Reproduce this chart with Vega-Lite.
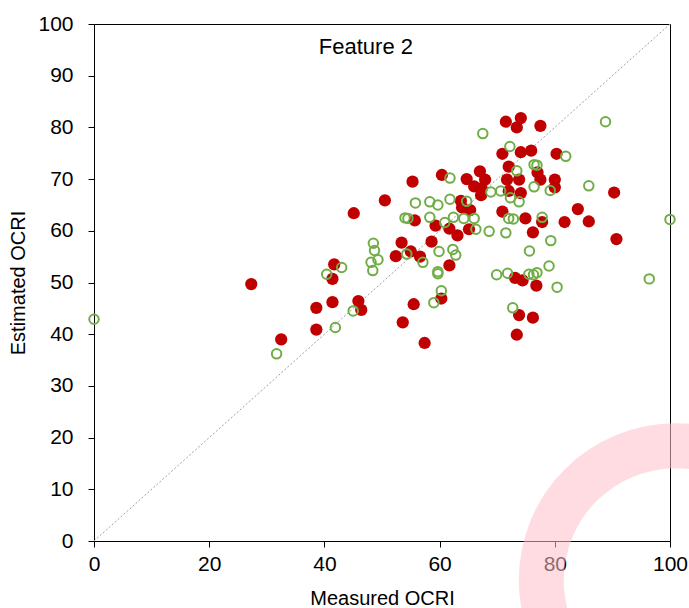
{
  "$schema": "https://vega.github.io/schema/vega-lite/v6.json",
  "width": 576,
  "height": 517,
  "autosize": {"type": "none"},
  "padding": {"left": 94, "top": 24, "right": 19, "bottom": 67},
  "background": "white",
  "config": {
    "view": {"stroke": "black", "strokeWidth": 1},
    "font": "Liberation Sans",
    "axis": {
      "grid": false,
      "domainColor": "black",
      "domainWidth": 1,
      "tickColor": "black",
      "tickSize": 6,
      "labelColor": "black",
      "labelFontSize": 21,
      "labelFont": "Liberation Sans",
      "titleColor": "black",
      "titleFontSize": 20,
      "titleFont": "Liberation Sans",
      "titleFontWeight": "normal"
    }
  },
  "datasets": {
    "filled": [
      {"x":71.5,"y":81.1},{"x":74.1,"y":81.8},{"x":73.4,"y":80.0},{"x":77.5,"y":80.3},{"x":70.9,"y":74.9},{"x":74.1,"y":75.2},{"x":75.9,"y":75.5},{"x":80.3,"y":74.9},{"x":72.0,"y":72.4},{"x":77.0,"y":71.3},{"x":77.5,"y":69.9},{"x":80.0,"y":69.9},{"x":80.0,"y":68.4},{"x":71.7,"y":69.9},{"x":73.8,"y":69.9},{"x":72.0,"y":67.7},{"x":74.1,"y":67.3},{"x":67.0,"y":71.5},{"x":67.9,"y":69.9},{"x":64.7,"y":70.0},{"x":66.0,"y":68.6},{"x":67.3,"y":68.2},{"x":67.2,"y":66.9},{"x":60.4,"y":70.8},{"x":55.3,"y":69.5},{"x":90.3,"y":67.4},{"x":63.7,"y":65.8},{"x":63.9,"y":64.5},{"x":65.3,"y":64.0},{"x":70.9,"y":63.7},{"x":84.0,"y":64.2},{"x":74.9,"y":62.4},{"x":77.8,"y":61.7},{"x":81.7,"y":61.7},{"x":85.9,"y":61.8},{"x":55.7,"y":62.0},{"x":59.3,"y":61.0},{"x":61.7,"y":60.4},{"x":65.1,"y":60.3},{"x":63.1,"y":59.1},{"x":76.2,"y":59.7},{"x":90.7,"y":58.4},{"x":58.6,"y":57.9},{"x":53.4,"y":57.7},{"x":55.0,"y":56.0},{"x":56.6,"y":55.0},{"x":52.4,"y":55.1},{"x":50.5,"y":65.9},{"x":45.1,"y":63.4},{"x":61.7,"y":53.3},{"x":41.7,"y":53.5},{"x":41.4,"y":50.7},{"x":27.3,"y":49.7},{"x":45.9,"y":46.4},{"x":46.4,"y":44.7},{"x":38.6,"y":45.1},{"x":41.4,"y":46.2},{"x":38.6,"y":40.9},{"x":32.5,"y":39.0},{"x":53.6,"y":42.3},{"x":55.5,"y":45.8},{"x":57.4,"y":38.3},{"x":60.3,"y":46.9},{"x":73.1,"y":50.9},{"x":74.4,"y":50.4},{"x":76.8,"y":49.4},{"x":73.8,"y":43.7},{"x":76.2,"y":43.2},{"x":73.4,"y":39.9}
    ],
    "open": [
      {"x":0,"y":42.9},{"x":100,"y":62.2},{"x":88.8,"y":81.1},{"x":67.5,"y":78.8},{"x":72.2,"y":76.3},{"x":81.9,"y":74.4},{"x":76.4,"y":72.8},{"x":76.9,"y":72.7},{"x":73.4,"y":71.6},{"x":61.8,"y":70.2},{"x":85.9,"y":68.7},{"x":76.4,"y":68.5},{"x":79.2,"y":67.8},{"x":68.9,"y":67.5},{"x":70.6,"y":67.7},{"x":72.3,"y":66.4},{"x":73.8,"y":65.6},{"x":61.8,"y":66.1},{"x":64.7,"y":65.7},{"x":58.3,"y":65.6},{"x":59.7,"y":65.0},{"x":55.8,"y":65.4},{"x":54.0,"y":62.5},{"x":54.5,"y":62.4},{"x":58.3,"y":62.6},{"x":60.9,"y":61.6},{"x":62.4,"y":62.6},{"x":64.2,"y":62.4},{"x":66.0,"y":62.4},{"x":72.0,"y":62.4},{"x":72.8,"y":62.3},{"x":77.8,"y":62.6},{"x":66.3,"y":60.3},{"x":68.6,"y":59.9},{"x":71.5,"y":59.6},{"x":79.3,"y":58.1},{"x":75.6,"y":56.1},{"x":59.9,"y":56.0},{"x":62.3,"y":56.4},{"x":62.8,"y":55.3},{"x":54.3,"y":55.5},{"x":57.1,"y":53.9},{"x":48.5,"y":57.6},{"x":48.7,"y":56.2},{"x":48.1,"y":53.9},{"x":49.3,"y":54.4},{"x":48.4,"y":52.3},{"x":43.0,"y":52.9},{"x":40.4,"y":51.6},{"x":59.7,"y":52.1},{"x":59.7,"y":51.7},{"x":60.3,"y":48.4},{"x":59.0,"y":46.1},{"x":45.0,"y":44.5},{"x":41.9,"y":41.3},{"x":31.7,"y":36.2},{"x":69.9,"y":51.5},{"x":71.8,"y":51.8},{"x":75.5,"y":51.6},{"x":76.9,"y":51.9},{"x":76.3,"y":51.5},{"x":79.0,"y":53.2},{"x":80.4,"y":49.1},{"x":96.4,"y":50.7},{"x":72.7,"y":45.1}
    ],
    "diag": [{"x":0,"y":0},{"x":100,"y":100}],
    "label": [{"x":47.2,"y":95.6,"t":"Feature 2"}],
    "ring": [{"x":101,"y":-7.6}]
  },
  "encoding": {
    "x": {
      "field": "x", "type": "quantitative",
      "scale": {"domain": [0, 100], "nice": false, "zero": false},
      "axis": {"values": [0, 20, 40, 60, 80, 100], "labelPadding": 6, "titlePadding": 14, "labelFlush": false},
      "title": "Measured OCRI"
    },
    "y": {
      "field": "y", "type": "quantitative",
      "scale": {"domain": [0, 100], "nice": false, "zero": false},
      "axis": {"values": [0, 10, 20, 30, 40, 50, 60, 70, 80, 90, 100], "labelPadding": 15, "titlePadding": 9, "labelFlush": false},
      "title": "Estimated OCRI"
    }
  },
  "layer": [
    {
      "data": {"name": "diag"},
      "mark": {"type": "line", "color": "#A0A0A0", "strokeWidth": 1, "strokeDash": [2, 2]}
    },
    {
      "data": {"name": "filled"},
      "mark": {"type": "point", "shape": "circle", "filled": true, "color": "#C00000", "opacity": 1, "size": 150}
    },
    {
      "data": {"name": "open"},
      "mark": {"type": "point", "shape": "circle", "filled": false, "stroke": "#70AD47", "strokeWidth": 2, "opacity": 1, "size": 90}
    },
    {
      "data": {"name": "label"},
      "mark": {"type": "text", "fontSize": 22, "font": "Liberation Sans", "color": "black", "align": "center", "baseline": "middle"},
      "encoding": {"text": {"field": "t"}}
    },
    {
      "data": {"name": "ring"},
      "mark": {"type": "arc", "radius": 157, "radius2": 112, "theta": 0, "theta2": 6.2832, "fill": "#FFC0CB", "opacity": 0.55}
    }
  ]
}
